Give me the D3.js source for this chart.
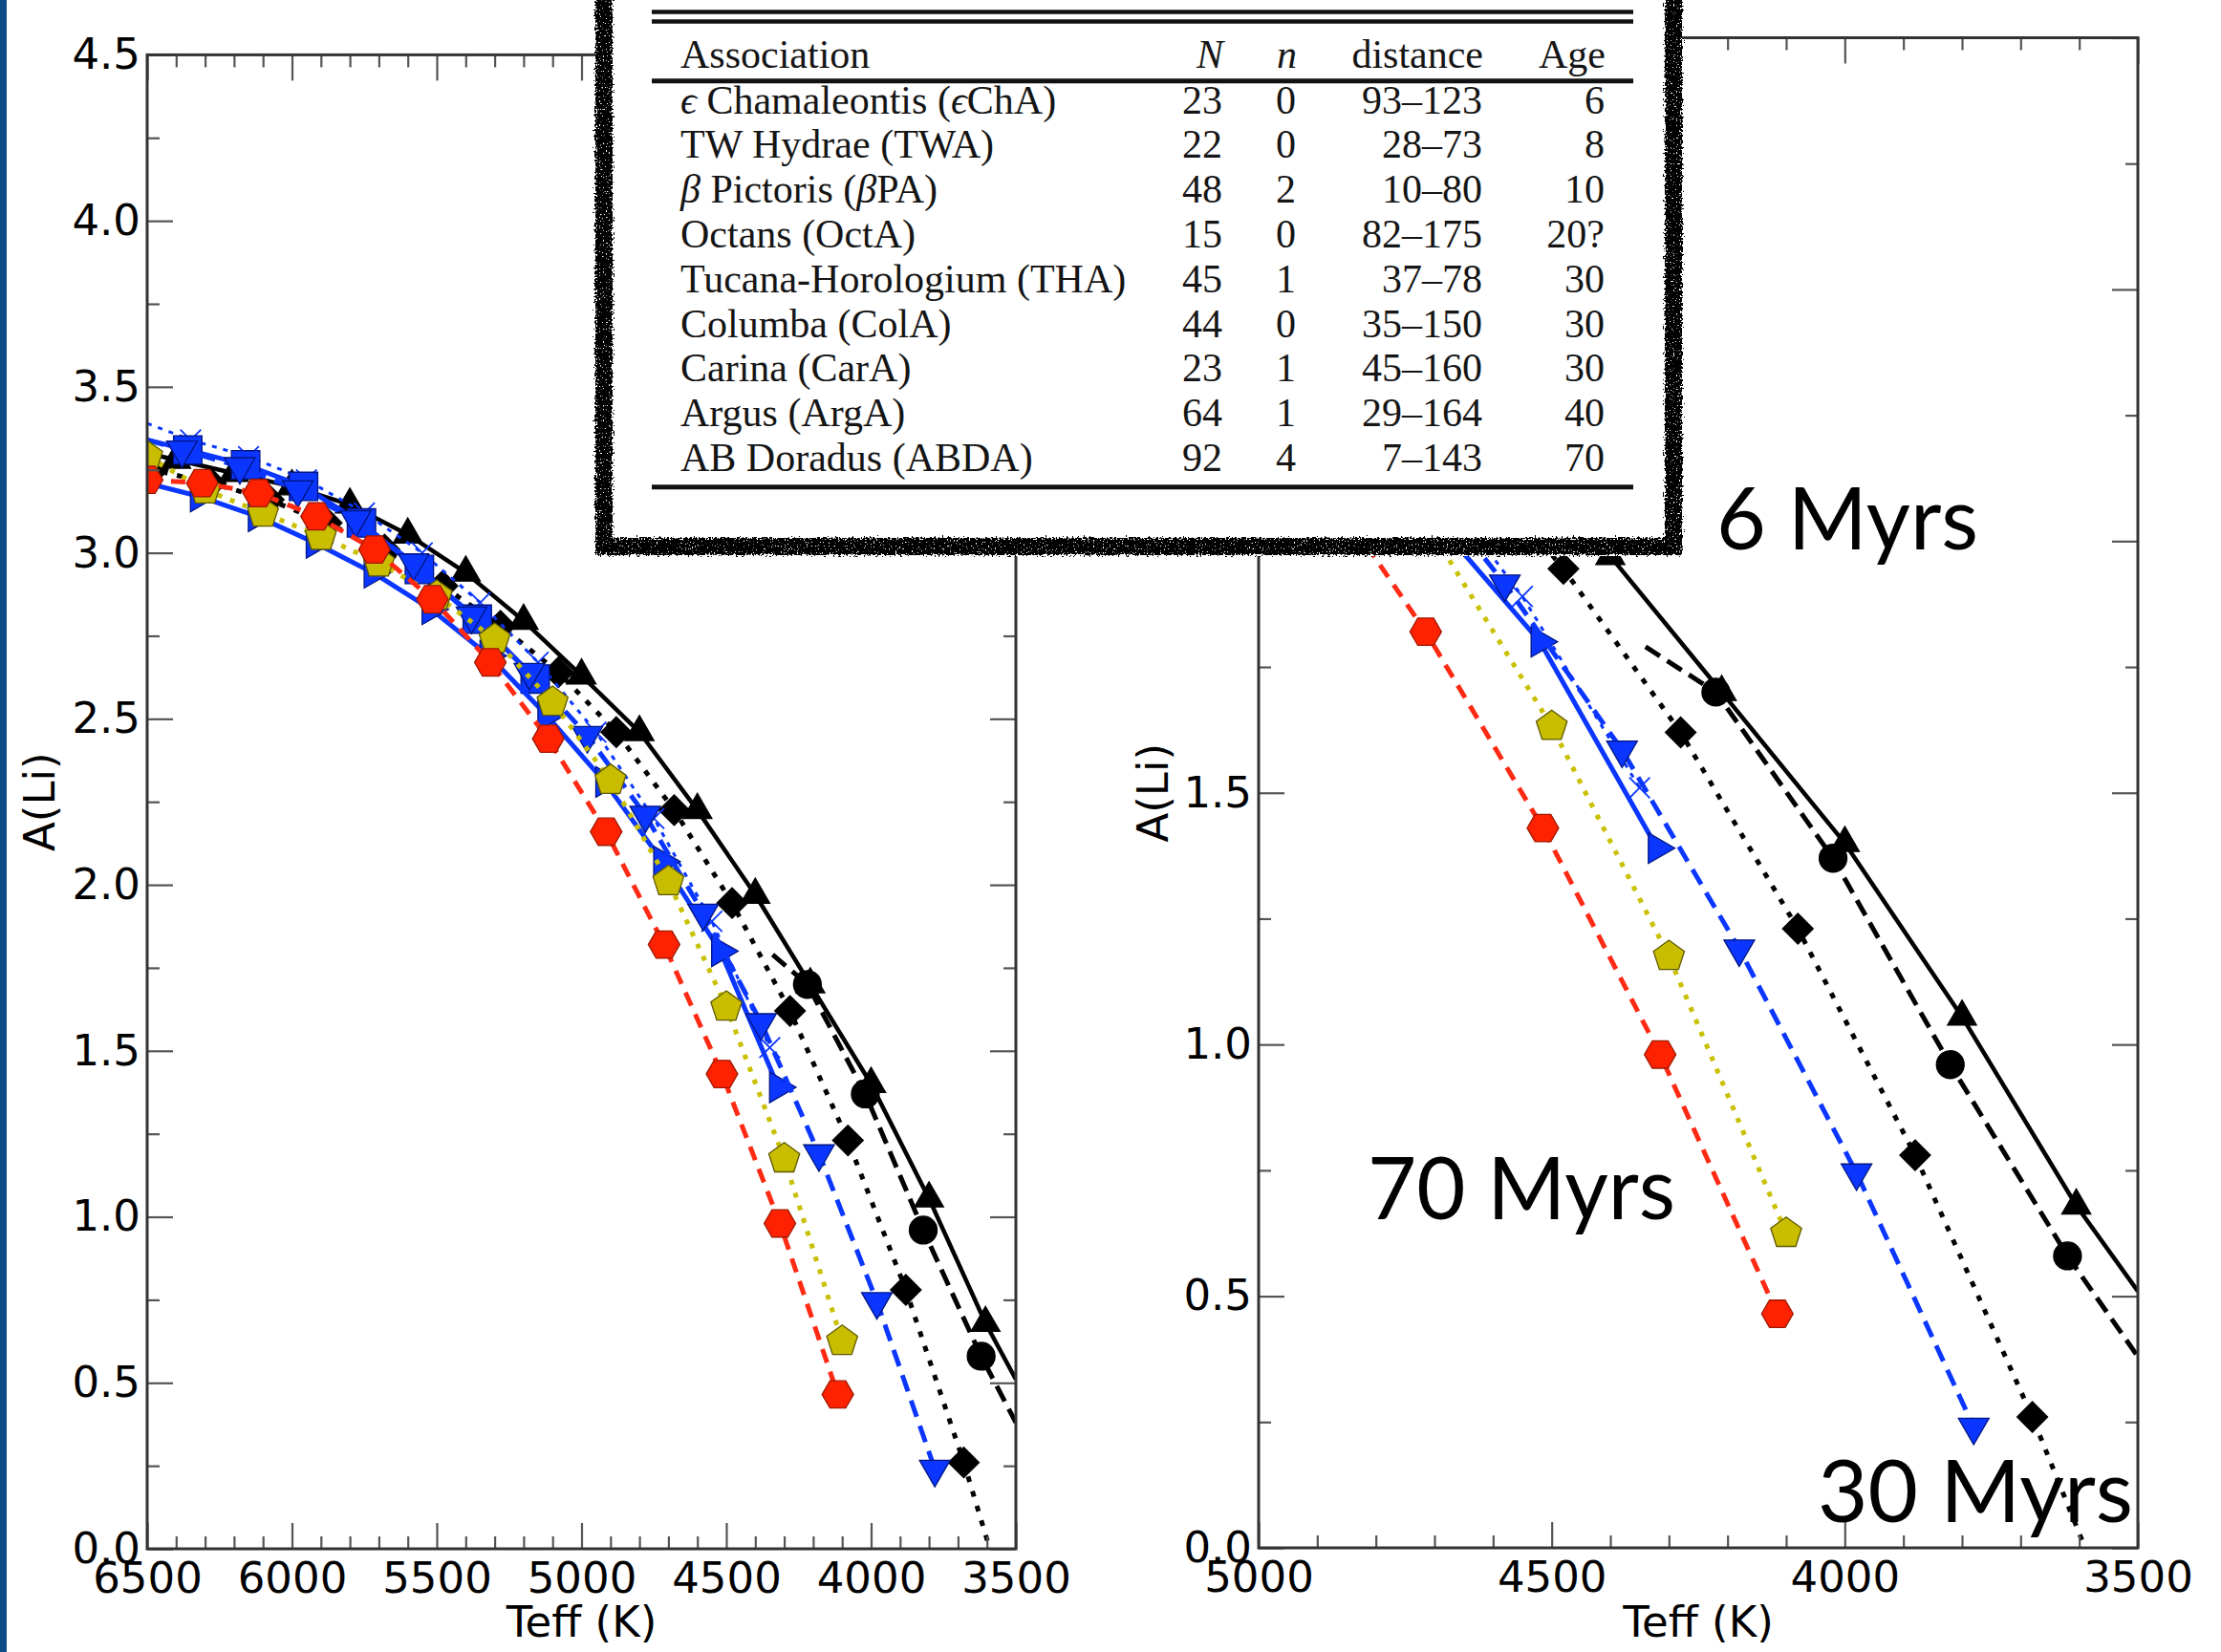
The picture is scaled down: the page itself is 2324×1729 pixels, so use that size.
<!DOCTYPE html>
<html><head><meta charset="utf-8">
<script src="https://cdn.jsdelivr.net/npm/d3@7"></script>
<style>
html,body{margin:0;padding:0;background:#fff;}
svg{display:block;}
</style></head><body>
<svg id="chart" width="2324" height="1729"></svg>
<script>
// ---------------- DATA ----------------
// Black solid line, up-triangles
const triTeff = [6400, 6200, 6000, 5800, 5600, 5400, 5200, 5000, 4800, 4600, 4400, 4210, 4000, 3800, 3605];
const triALi  = [3.28, 3.24, 3.20, 3.145, 3.055, 2.94, 2.795, 2.63, 2.46, 2.225, 1.97, 1.70, 1.40, 1.055, 0.68];
const triLineStart = [6500, 3.30], triLineEnd = [3500, 0.51];
// Black dashed line, circles
const circTeff = [4220, 4020, 3820, 3620];
const circALi  = [1.70, 1.37, 0.96, 0.58];
const circLineStart = [4340, 1.79], circLineEnd = [3500, 0.38];
// Black dotted line, diamonds
const diaTeff = [6480, 6280, 6080, 5880, 5680, 5480, 5280, 5080, 4880, 4680, 4480, 4280, 4080, 3880, 3680];
const diaALi  = [3.25, 3.21, 3.16, 3.09, 3.01, 2.90, 2.78, 2.64, 2.46, 2.225, 1.945, 1.62, 1.23, 0.78, 0.26];
const diaLineStart = [6500, 3.255], diaLineEnd = [3590, 0.0];
// Blue dashed line, down-triangles
const dtriTeff = [6380, 6180, 5980, 5780, 5580, 5380, 5180, 4980, 4780, 4580, 4380, 4180, 3980, 3780];
const dtriALi  = [3.31, 3.26, 3.19, 3.10, 2.97, 2.81, 2.64, 2.45, 2.21, 1.915, 1.585, 1.19, 0.745, 0.24];
const dtriLineStart = [6500, 3.34];
// Blue solid line, right-triangles
const rtriTeff = [6320, 6120, 5920, 5720, 5520, 5320, 5120, 4920, 4720, 4520, 4320];
const rtriALi  = [3.17, 3.11, 3.03, 2.94, 2.83, 2.69, 2.51, 2.31, 2.07, 1.80, 1.39];
const rtriLineStart = [6500, 3.21];
// Blue solid line, squares
const sqTeff = [6360, 6160, 5960, 5760, 5560, 5360, 5160];
const sqALi  = [3.31, 3.265, 3.20, 3.09, 2.95, 2.80, 2.62];
const sqLineStart = [6500, 3.34];
// Blue thin dotted line, crosses
const crossTeff = [6350, 6150, 5950, 5750, 5550, 5350, 5150, 4950, 4750, 4550, 4350];
const crossALi  = [3.34, 3.29, 3.22, 3.12, 3.00, 2.85, 2.67, 2.46, 2.20, 1.89, 1.51];
const crossLineStart = [6500, 3.39];
// Yellow dotted line, pentagons
const pentTeff = [6500, 6300, 6100, 5900, 5700, 5500, 5300, 5100, 4900, 4700, 4500, 4300, 4100];
const pentALi  = [3.29, 3.19, 3.12, 3.05, 2.97, 2.87, 2.74, 2.55, 2.315, 2.01, 1.632, 1.175, 0.625];
// Red dashed line, hexagons
const hexTeff = [6500, 6310, 6115, 5915, 5715, 5515, 5315, 5115, 4915, 4715, 4515, 4315, 4115];
const hexALi  = [3.22, 3.21, 3.18, 3.11, 3.01, 2.86, 2.67, 2.44, 2.16, 1.82, 1.43, 0.98, 0.465];

// Ticks
const leftXMajor = [6500, 6000, 5500, 5000, 4500, 4000, 3500];
const leftYMajor = [0, 0.5, 1.0, 1.5, 2.0, 2.5, 3.0, 3.5, 4.0, 4.5];
const rightXMajor = [5000, 4500, 4000, 3500];
const rightYMajor = [0, 0.5, 1.0, 1.5, 2.0, 2.5, 3.0];

// Table
const tableHeader = ["Association", "N", "n", "distance", "Age"];
const assocNames = ["ϵ Chamaleontis (ϵChA)", "TW Hydrae (TWA)", "β Pictoris (βPA)", "Octans (OctA)",
  "Tucana-Horologium (THA)", "Columba (ColA)", "Carina (CarA)", "Argus (ArgA)", "AB Doradus (ABDA)"];
const assocN = [23, 22, 48, 15, 45, 44, 23, 64, 92];
const assocSmallN = [0, 0, 2, 0, 1, 0, 1, 1, 4];
const assocDist = ["93–123", "28–73", "10–80", "82–175", "37–78", "35–150", "45–160", "29–164", "7–143"];
const assocAge = ["6", "8", "10", "20?", "30", "30", "30", "40", "70"];

// Annotations
const ageLabels = ["6 Myrs", "70 Myrs", "30 Myrs"];

// ---------------- DRAW ----------------
const W = 2324, H = 1729;
const svg = d3.select("#chart");
svg.append("rect").attr("width", W).attr("height", H).attr("fill", "#fff");
svg.append("rect").attr("x", 0).attr("y", 0).attr("width", 7).attr("height", H).attr("fill", "#0d4a86");

const defs = svg.append("defs");
const filt = defs.append("filter").attr("id", "rough").attr("x", "-5%").attr("y", "-5%").attr("width", "110%").attr("height", "110%");
filt.append("feTurbulence").attr("type", "fractalNoise").attr("baseFrequency", "0.5").attr("numOctaves", 2).attr("seed", 4).attr("result", "n");
filt.append("feDisplacementMap").attr("in", "SourceGraphic").attr("in2", "n").attr("scale", 10)
  .attr("xChannelSelector", "R").attr("yChannelSelector", "G").attr("result", "d");
filt.append("feTurbulence").attr("type", "fractalNoise").attr("baseFrequency", "0.7").attr("numOctaves", 1).attr("seed", 9).attr("result", "n2");
filt.append("feColorMatrix").attr("in", "n2").attr("type", "matrix")
  .attr("values", "0 0 0 0 0  0 0 0 0 0  0 0 0 0 0  16 0 0 0 -4.6").attr("result", "mask");
filt.append("feComposite").attr("in", "d").attr("in2", "mask").attr("operator", "in");

function polySym(n, rotDeg) {
  return { draw(ctx, size) {
    const r = Math.sqrt(size);
    for (let i = 0; i < n; i++) {
      const a = (rotDeg + 360 * i / n) * Math.PI / 180;
      const px = r * Math.sin(a), py = -r * Math.cos(a);
      if (i) ctx.lineTo(px, py); else ctx.moveTo(px, py);
    }
    ctx.closePath();
  }};
}
const crossSym = { draw(ctx, size) {
  const r = Math.sqrt(size) * 0.72;
  ctx.moveTo(-r, -r); ctx.lineTo(r, r); ctx.moveTo(-r, r); ctx.lineTo(r, -r);
}};
const circSym = { draw(ctx, size) { d3.symbolCircle.draw(ctx, Math.PI * size); } };

const BLUE = "#0a36ff";
const series = [
  {T: diaTeff, A: diaALi, start: diaLineStart, end: diaLineEnd, stroke: "#000", width: 5, dash: "6,10", sym: polySym(4, 0), r: 16, fill: "#000", edge: "#000"},
  {T: circTeff, A: circALi, start: circLineStart, end: circLineEnd, stroke: "#000", width: 5, dash: "18,9", sym: circSym, r: 14.5, fill: "#000", edge: "#000"},
  {T: triTeff, A: triALi, start: triLineStart, end: triLineEnd, stroke: "#000", width: 4.5, dash: null, sym: polySym(3, 0), r: 17.5, fill: "#000", edge: "#000"},
  {T: crossTeff, A: crossALi, start: crossLineStart, end: null, stroke: BLUE, width: 3, dash: "5,7", sym: crossSym, r: 15, fill: "none", edge: BLUE, cross: true},
  {T: sqTeff, A: sqALi, start: sqLineStart, end: null, stroke: BLUE, width: 5, dash: null, sym: polySym(4, 45), r: 21, fill: BLUE, edge: "#001580"},
  {T: rtriTeff, A: rtriALi, start: rtriLineStart, end: null, stroke: BLUE, width: 5, dash: null, sym: polySym(3, 90), r: 18.5, fill: BLUE, edge: "#001580"},
  {T: dtriTeff, A: dtriALi, start: dtriLineStart, end: null, stroke: BLUE, width: 5, dash: "18,10", sym: polySym(3, 180), r: 18.5, fill: BLUE, edge: "#001580"},
  {T: pentTeff, A: pentALi, start: null, end: null, stroke: "#c8c000", width: 5, dash: "5,9", sym: polySym(5, 0), r: 17, fill: "#c9bd00", edge: "#5f5a00"},
  {T: hexTeff, A: hexALi, start: null, end: null, stroke: "#ff2a14", width: 5, dash: "15,10", sym: polySym(6, 30), r: 16.5, fill: "#ff2200", edge: "#9e1800"}
];

const panels = [
  {id: "L", x0: 154, x1: 1063, y0: 57.4, y1: 1621, tdom: [6500, 3500], adom: [0, 4.5], xMaj: leftXMajor, yMaj: leftYMajor, ylabX: 57},
  {id: "R", x0: 1317, x1: 2237, y0: 39.5, y1: 1620, tdom: [5000, 3500], adom: [0, 3.0], xMaj: rightXMajor, yMaj: rightYMajor, ylabX: 1222}
];

const FONT = "DejaVu Sans, Verdana, sans-serif";

panels.forEach(p => {
  const x = d3.scaleLinear().domain(p.tdom).range([p.x0, p.x1]);
  const y = d3.scaleLinear().domain(p.adom).range([p.y1, p.y0]);
  const xMin = d3.range(p.tdom[0], p.tdom[1] - 1, -100).filter(v => v % 500 !== 0);
  const yMin = d3.range(p.adom[0] + 0.25, p.adom[1], 0.5);

  defs.append("clipPath").attr("id", "clip" + p.id)
    .append("rect").attr("x", p.x0).attr("y", p.y0).attr("width", p.x1 - p.x0).attr("height", p.y1 - p.y0);

  const g = svg.append("g");
  const plot = g.append("g").attr("clip-path", `url(#clip${p.id})`);
  const line = d3.line().x(d => x(d[0])).y(d => y(d[1]));

  series.forEach(s => {
    let pts = s.T.map((t, i) => [t, s.A[i]]);
    if (s.start) pts = [s.start].concat(pts);
    if (s.end) pts = pts.concat([s.end]);
    plot.append("path").attr("d", line(pts)).attr("fill", "none")
      .attr("stroke", s.stroke).attr("stroke-width", s.width)
      .attr("stroke-dasharray", s.dash).attr("stroke-linejoin", "round");
    const sym = d3.symbol().type(s.sym).size(s.r * s.r);
    plot.selectAll(null).data(s.T.map((t, i) => [t, s.A[i]])).enter().append("path")
      .attr("transform", d => `translate(${x(d[0])},${y(d[1])})`)
      .attr("d", sym)
      .attr("fill", s.fill)
      .attr("stroke", s.edge)
      .attr("stroke-width", s.cross ? 1.8 : 1.3);
  });

  // axes
  const styleAxis = sel => {
    sel.select(".domain").remove();
    sel.selectAll(".tick line").attr("stroke", "#555").attr("stroke-width", 2.2);
    sel.selectAll("text").attr("fill", "#000").attr("font-family", FONT).attr("font-size", 45);
  };
  g.append("g").attr("transform", `translate(0,${p.y1})`)
    .call(d3.axisBottom(x).tickValues(p.xMaj).tickSizeInner(-27).tickSizeOuter(0).tickPadding(14).tickFormat(d3.format("d"))).call(styleAxis);
  g.append("g").attr("transform", `translate(0,${p.y1})`)
    .call(d3.axisBottom(x).tickValues(xMin).tickSizeInner(-13).tickSizeOuter(0).tickFormat("")).call(styleAxis);
  g.append("g").attr("transform", `translate(0,${p.y0})`)
    .call(d3.axisTop(x).tickValues(p.xMaj).tickSizeInner(-27).tickSizeOuter(0).tickFormat("")).call(styleAxis);
  g.append("g").attr("transform", `translate(0,${p.y0})`)
    .call(d3.axisTop(x).tickValues(xMin).tickSizeInner(-13).tickSizeOuter(0).tickFormat("")).call(styleAxis);
  g.append("g").attr("transform", `translate(${p.x0},0)`)
    .call(d3.axisLeft(y).tickValues(p.yMaj).tickSizeInner(-27).tickSizeOuter(0).tickPadding(7).tickFormat(d3.format(".1f"))).call(styleAxis);
  g.append("g").attr("transform", `translate(${p.x0},0)`)
    .call(d3.axisLeft(y).tickValues(yMin).tickSizeInner(-13).tickSizeOuter(0).tickFormat("")).call(styleAxis);
  g.append("g").attr("transform", `translate(${p.x1},0)`)
    .call(d3.axisRight(y).tickValues(p.yMaj).tickSizeInner(-27).tickSizeOuter(0).tickFormat("")).call(styleAxis);
  g.append("g").attr("transform", `translate(${p.x1},0)`)
    .call(d3.axisRight(y).tickValues(yMin).tickSizeInner(-13).tickSizeOuter(0).tickFormat("")).call(styleAxis);

  g.append("rect").attr("x", p.x0).attr("y", p.y0).attr("width", p.x1 - p.x0).attr("height", p.y1 - p.y0)
    .attr("fill", "none").attr("stroke", "#333").attr("stroke-width", 3);

  g.append("text").attr("x", (p.x0 + p.x1) / 2).attr("y", 1713).attr("text-anchor", "middle")
    .attr("font-family", FONT).attr("font-size", 45).attr("fill", "#000").text("Teff (K)");
  g.append("text").attr("transform", `translate(${p.ylabX},${(p.y0 + p.y1) / 2}) rotate(-90)`).attr("text-anchor", "middle")
    .attr("font-family", FONT).attr("font-size", 45).attr("fill", "#000").text("A(Li)");
});

// ---------------- TABLE ----------------
const tg = svg.append("g");
tg.append("rect").attr("x", 623).attr("y", -30).attr("width", 1760 - 623).attr("height", 582 + 30).attr("fill", "#fff");
tg.append("path").attr("d", "M632,-30 L632,572 L1751,572 L1751,-30")
  .attr("fill", "none").attr("stroke", "#000").attr("stroke-width", 18).attr("filter", "url(#rough)");
const ruleX1 = 682, ruleX2 = 1709;
[[12.4, 4.5], [22.6, 4.5], [84.7, 5], [509.8, 5]].forEach(r => {
  tg.append("line").attr("x1", ruleX1).attr("x2", ruleX2).attr("y1", r[0]).attr("y2", r[0])
    .attr("stroke", "#111").attr("stroke-width", r[1]);
});
const SERIF = "Liberation Serif, Times New Roman, DejaVu Serif, serif";
const colX = [712, 1280, 1357, 1552, 1680];
const colAnchor = ["start", "end", "end", "end", "end"];
const colItalic = [false, true, true, false, false];
tableHeader.forEach((h, j) => {
  tg.append("text").attr("x", colX[j]).attr("y", 70.7).attr("text-anchor", colAnchor[j])
    .attr("font-family", SERIF).attr("font-size", 42).attr("fill", "#151515")
    .attr("font-style", colItalic[j] ? "italic" : "normal").text(h);
});
function richName(sel, name) {
  const parts = name.split(/([ϵβ])/).filter(s => s.length);
  parts.forEach(pt => {
    const t = sel.append("tspan").text(pt);
    if (pt === "ϵ" || pt === "β") t.attr("font-style", "italic");
  });
}
assocNames.forEach((nm, i) => {
  const yb = 118.5 + 46.8 * i;
  const row = [nm, String(assocN[i]), String(assocSmallN[i]), assocDist[i], assocAge[i]];
  row.forEach((v, j) => {
    const t = tg.append("text").attr("x", j === 0 ? colX[0] : colX[j] - 1).attr("y", yb).attr("text-anchor", colAnchor[j])
      .attr("font-family", SERIF).attr("font-size", 42).attr("fill", "#151515");
    if (j === 0) richName(t, v); else t.text(v);
  });
});

// ---------------- AGE LABELS ----------------
const agePos = [[1796, 575, 274], [1431, 1276, 322], [1902, 1593, 330]];
ageLabels.forEach((lab, i) => {
  svg.append("text").attr("x", agePos[i][0]).attr("y", agePos[i][1])
    .attr("font-family", "Lato, Open Sans, sans-serif").attr("font-size", 92).attr("fill", "#000")
    .attr("textLength", agePos[i][2]).attr("lengthAdjust", "spacingAndGlyphs").text(lab);
});
</script>
</body></html>
